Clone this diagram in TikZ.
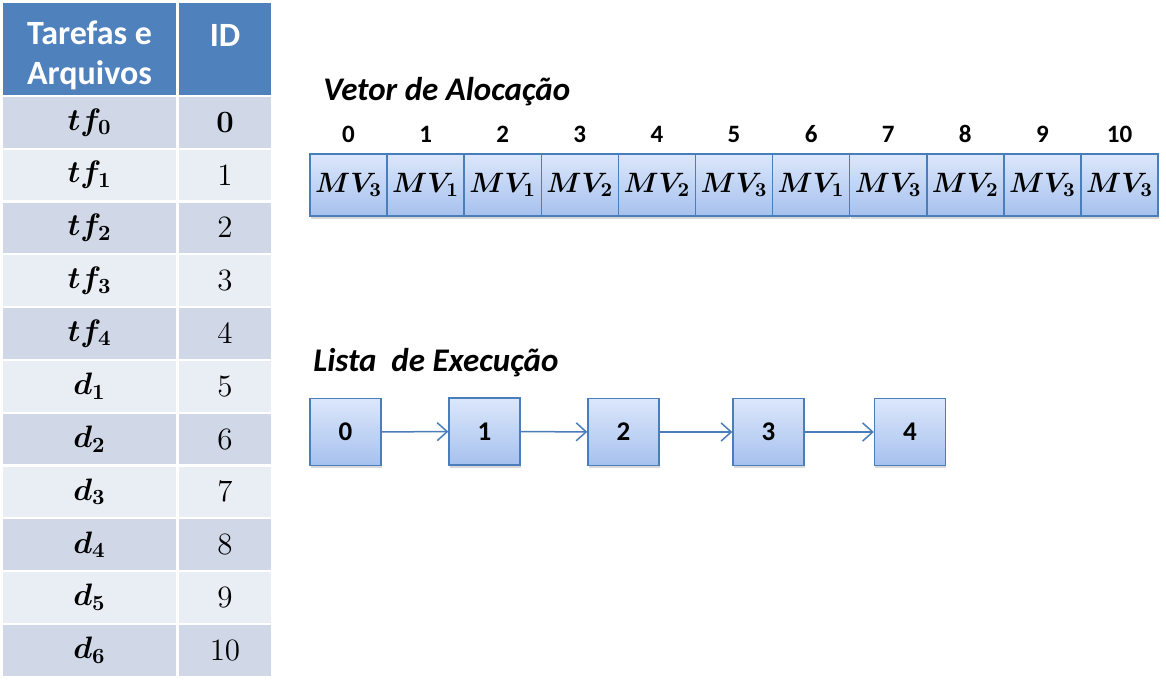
\RequirePackage{fix-cm}
\documentclass[tikz,border=0pt]{standalone}
\usepackage{amsmath}
\usepackage{bm}
\usepackage{fontspec}
\setmainfont{Carlito}
\usetikzlibrary{positioning,shadows,arrows.meta}

\definecolor{hdrblue}{HTML}{4F81BD}
\definecolor{rowdark}{HTML}{D0D8E8}
\definecolor{rowlight}{HTML}{E9EDF4}
\definecolor{boxedge}{HTML}{4A7EBB}
\definecolor{boxtop}{HTML}{DCE7FB}
\definecolor{boxbot}{HTML}{A6C1EE}

\tikzset{
  hdr/.style={fill=hdrblue, inner sep=0pt, minimum height=46pt},
  hdrtext/.style={text=white, align=center, inner sep=0pt,
    font=\bfseries\fontsize{17}{20}\selectfont},
  row0/.style={fill=rowdark},
  row1/.style={fill=rowlight},
  cell/.style={inner sep=0pt, minimum height=25.25pt,
    font=\fontsize{15.5}{18}\selectfont},
  title/.style={anchor=base west, inner sep=0pt,
    font=\bfseries\itshape\fontsize{16.5}{19}\selectfont},
  memo/.style={draw=boxedge, line width=0.7pt, top color=boxtop, bottom color=boxbot,
    inner sep=0pt, drop shadow={shadow xshift=0.4pt, shadow yshift=-1.4pt, opacity=0.3}},
  slot/.style={memo, minimum width=38.5pt, minimum height=31pt,
    font=\fontsize{14}{16}\selectfont},
  task/.style={memo, minimum width=35.5pt, minimum height=33.5pt,
    font=\bfseries\fontsize{13.5}{15}\selectfont},
  idx/.style={inner sep=1pt, font=\bfseries\fontsize{12.5}{14}\selectfont},
  link/.style={draw=boxedge, line width=0.75pt, -{Straight Barb[length=5pt,width=9pt]}}
}

\begin{document}
\begin{tikzpicture}[x=0.5pt, y=-0.5pt]
  \useasboundingbox (0,0) rectangle (1166,688);

  % tabela de IDs
  \node[hdr, minimum width=86.5pt] (hdrA) at (89.5, 49) {};
  \node[hdr, minimum width=46pt] (hdrB) at (225, 49) {};
  \node[hdrtext] (hdrAtxt) at (89.5, 55) {Tarefas e\\Arquivos};
  \node[hdrtext] (hdrBtxt) at (225, 55) {ID\\\phantom{A}};
  \foreach \lab/\id [count=\r from 0, evaluate=\r as \alt using {int(mod(\r,2))},
      evaluate=\r as \ry using {122.3+52.8*\r}] in
      {tf_0/\bm{0}, tf_1/1, tf_2/2, tf_3/3, tf_4/4, d_1/5, d_2/6, d_3/7, d_4/8, d_5/9, d_6/10}
  {
    \node[cell, row\alt, minimum width=86.5pt] (tarefa\r) at (89.5, \ry) {$\bm{\lab}$};
    \node[cell, row\alt, minimum width=46pt] (id\r) at (225, \ry) {$\id$};
  }

  % vetor de alocacao
  \node[title] (tVetor) at (323, 101) {Vetor de Alocação};
  \foreach \mv [count=\i from 0, evaluate=\i as \vx using {348.5+77.1*\i}] in {3,1,1,2,2,3,1,3,2,3,3}
  {
    \node[slot] (v\i) at (\vx, 185) {$\bm{MV_{\mv}}$};
    \node[idx, above=4pt of v\i] (i\i) {\i};
  }

  % lista de execucao
  \node[title] (tLista) at (313, 372) {Lista\ \ de Execução};
  \node[task] (l0) at (345.5, 432) {0};
  \node[task] (l1) at (484.5, 431.5) {1};
  \node[task] (l2) at (623.5, 432) {2};
  \node[task] (l3) at (768.5, 432) {3};
  \node[task] (l4) at (910, 432) {4};
  \foreach \a/\b in {l0/l1, l1/l2, l2/l3, l3/l4}
    \draw[link] (\a) -- (\b);
\end{tikzpicture}
\end{document}
